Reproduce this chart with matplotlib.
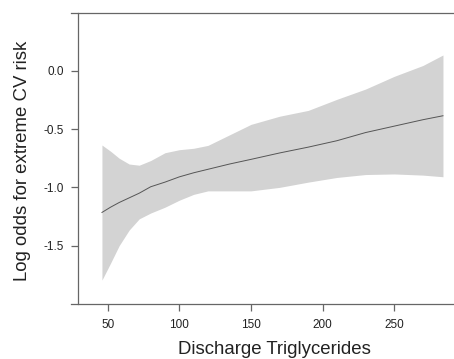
import matplotlib
matplotlib.use("Agg")
import matplotlib.pyplot as plt

plt.rcParams['font.family'] = ['Liberation Sans', 'DejaVu Sans']

# Data
trig = [46, 52, 58, 65, 72, 80, 90, 100, 110, 120, 135, 150, 170, 190, 210, 230, 250, 270, 284]
log_odds = [-1.215, -1.17, -1.13, -1.09, -1.05, -0.995, -0.955, -0.91, -0.875, -0.845,
            -0.80, -0.76, -0.705, -0.655, -0.60, -0.53, -0.475, -0.42, -0.386]
upper = [-0.637, -0.69, -0.75, -0.80, -0.81, -0.77, -0.703, -0.677, -0.665, -0.64,
         -0.55, -0.46, -0.39, -0.34, -0.245, -0.157, -0.048, 0.045, 0.135]
lower = [-1.795, -1.65, -1.50, -1.366, -1.27, -1.22, -1.17, -1.11, -1.06, -1.03,
         -1.03, -1.03, -1.00, -0.955, -0.915, -0.89, -0.885, -0.895, -0.909]
xticks = [50, 100, 150, 200, 250]
yticks = [-1.5, -1.0, -0.5, 0.0]
ytick_labels = ["-1.5", "-1.0", "-0.5", "0.0"]

W, H = 454, 359
fig = plt.figure(figsize=(W / 100, H / 100), dpi=100)
ax = fig.add_axes([71 / W, (H - 304) / H, 1 - 71 / W, (304 - 13) / H])

ax.fill_between(trig, lower, upper, color='#d3d3d3', linewidth=0)
ax.plot(trig, log_odds, color='#555555', linewidth=0.7)

ax.set_xlim(24.4, 291.7)
ax.set_ylim(-2.0, 0.495)

spine_col = '#666666'
ax.spines['right'].set_visible(False)
for s in ['left', 'top', 'bottom']:
    ax.spines[s].set_color(spine_col)
    ax.spines[s].set_linewidth(0.9)
ax.spines['left'].set_position(('data', 29.3))

ax.set_xticks(xticks)
ax.set_xticklabels([str(v) for v in xticks])
ax.set_yticks(yticks)
ax.set_yticklabels(ytick_labels)
ax.tick_params(axis='x', direction='out', length=5, width=0.9, color=spine_col,
               labelsize=8.5, labelcolor='#222222', pad=5.5)
ax.tick_params(axis='y', direction='out', length=5, width=0.9, color=spine_col,
               labelsize=8.5, labelcolor='#222222', pad=5)

fig.text(274.5 / W, 1 - 350 / H, "Discharge Triglycerides", ha='center', va='center',
         fontsize=13.4, color='#222222')
fig.text(23 / W, 1 - 161 / H, "Log odds for extreme CV risk", ha='center', va='center',
         rotation=90, fontsize=13.4, color='#222222')

fig.savefig("out.png", dpi=100)
